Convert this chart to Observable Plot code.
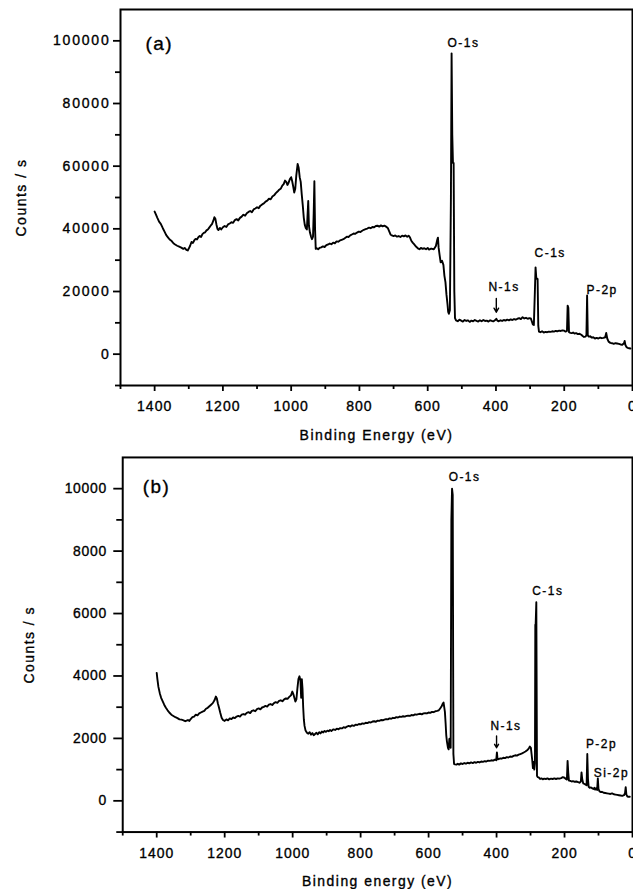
<!DOCTYPE html>
<html>
<head>
<meta charset="utf-8">
<script src="https://cdn.jsdelivr.net/npm/d3@7"></script>
<script src="https://cdn.jsdelivr.net/npm/@observablehq/plot@0.6"></script>
<style>
  body { margin: 0; background: #fff; }
  #wrap { width: 633px; overflow: hidden; }
  #wrap svg { display: block; }
  svg text { letter-spacing: 1px; stroke: #000; stroke-width: 0.35px; }
  svg g[aria-label="text"] text { letter-spacing: 1.5px; }
  #pa g[aria-label="y-axis tick label"] text { letter-spacing: 1.8px; }
  #pb g[aria-label="y-axis tick label"] text { letter-spacing: 0.7px; }
</style>
</head>
<body>
<div id="wrap"><div id="pa"></div><div id="pb"></div></div>
<script>
// ---------- Panel (a) spectrum ----------
const energyA = [1400,1397,1392,1387,1382,1376,1371,1366,1361,1356,1350,1345,1340,1334,1328,1322,1316,1312,1307,1303,1300,1296,1292,1288,1284,1280,1276,1272,1268,1264,1260,1256,1252,1248,1244,1240,1236,1232,1228,1225,1222,1219,1216,1213,1209,1205,1200,1195,1190,1185,1180,1175,1170,1165,1160,1155,1150,1145,1140,1135,1130,1125,1120,1115,1110,1105,1100,1095,1090,1085,1080,1075,1070,1065,1060,1055,1050,1045,1040,1035,1030,1026,1022,1018,1014,1011,1008,1004,1000,997,994,991,988,985,981,978,975,972,969,966,963,960,957,954,950,948,945,942,939,936,934,932,930,928,925,921,917,912,907,902,897,892,887,882,877,872,867,862,857,852,847,842,837,832,827,822,817,812,807,802,797,792,787,782,777,772,767,762,757,752,747,742,737,732,727,722,717,713,709,705,700,695,690,685,680,675,670,665,660,656,652,648,644,640,636,632,628,624,620,615,610,605,600,596,590,582,576,572,570,568,565,562,558,554,551,548,545,542,540,538,535,532,530,528,526,524,522,520,517,512,507,502,497,492,487,482,477,472,467,462,457,452,447,442,437,432,427,422,417,412,407,402,399,396,392,387,382,377,372,367,362,357,352,347,342,337,332,327,322,317,312,307,302,298,295,292,289,286,284,282,280,278,276,274,270,265,260,255,250,245,240,235,230,225,220,215,210,205,200,196,192,190,188,186,182,178,174,170,165,160,155,150,146,142,138,135,133,131,128,124,120,115,110,105,100,95,90,85,80,77,74,70,65,60,55,50,45,40,35,30,25,23,21,18,14,10,6];
const countsA = [45500,44800,43500,42300,41600,40200,39100,38000,37300,36600,36100,35400,35000,34600,34300,34000,33600,33900,33300,33100,33700,34600,35800,35500,36300,36800,36600,37300,37700,37400,38300,38700,38900,39500,39800,40400,41000,41500,42600,43700,43200,41400,40000,39600,40300,39800,40500,40900,40600,41400,41700,42100,41900,42800,43100,42700,43500,43900,44500,44200,45000,45400,45700,45300,46200,46500,46900,46600,47400,47800,48100,48700,49000,49600,49400,50300,50700,51400,51900,52500,52900,53800,54300,55400,54900,54000,54600,55800,56500,55200,53500,51600,52800,57000,60700,59500,56500,55000,51000,47500,43500,41200,40200,39800,48900,41000,38800,37600,36700,37500,45000,55200,40000,33600,33800,33500,33900,34100,34400,34200,34800,35000,35300,35100,35600,35400,36000,35900,36300,36500,36700,37100,37500,37400,37900,38200,38500,38400,38800,39100,39000,39400,39700,39900,40100,40400,40200,40600,40500,40900,41000,40700,41100,40800,41000,40700,40300,39300,38200,37900,37700,37900,37500,37700,37400,37800,37600,37900,37500,37800,37300,36200,35600,35100,34600,34100,33700,33500,33900,33600,33800,33500,33900,33400,33700,33500,34500,36500,37200,34000,31500,29300,29800,28500,25000,23000,19000,16000,13500,12900,14000,50000,96000,70000,61000,61000,20000,11500,10800,10500,11000,10700,10400,10900,10600,10800,10300,10700,10500,10900,10600,10400,10800,10500,10900,10600,10700,10400,10800,10600,10500,10900,11300,10700,10500,10800,10600,10900,10700,11000,10800,11100,10900,11200,11000,11300,11500,11200,11800,11400,11600,11300,11500,11400,10500,9500,9300,20000,27700,24500,24000,24000,9000,7200,7000,7300,6900,7100,7000,7200,7100,7300,7200,7400,7300,7500,7400,7600,7500,7200,7400,15500,14800,7000,6800,6700,6900,6600,6700,6400,6500,6200,5800,5500,5600,6000,18700,6000,5600,5700,5300,5400,5000,5200,5000,5300,5100,5200,5400,6800,5000,4000,3600,3500,3300,3500,3400,3300,3100,3000,3500,4200,3000,2300,2000,1900,1800];

// ---------- Panel (b) spectrum ----------
const energyB = [1400,1398,1395,1391,1387,1383,1378,1373,1368,1363,1357,1351,1345,1339,1333,1327,1321,1316,1312,1308,1304,1300,1295,1290,1285,1280,1275,1270,1265,1260,1255,1250,1245,1240,1235,1230,1226,1223,1220,1217,1213,1209,1205,1200,1195,1190,1185,1180,1175,1170,1165,1160,1155,1150,1145,1140,1135,1130,1125,1120,1115,1110,1105,1100,1095,1090,1085,1080,1075,1070,1065,1060,1055,1050,1045,1040,1035,1030,1025,1020,1015,1010,1005,1001,998,995,992,989,986,983,980,977,975,973,971,969,967,965,962,958,954,950,946,942,938,934,930,926,922,918,914,910,906,902,898,894,890,886,880,875,870,865,860,855,850,845,840,835,830,825,820,815,810,805,800,795,790,785,780,775,770,765,760,755,750,745,740,735,730,725,720,715,710,705,700,695,690,685,680,675,670,665,660,655,650,645,640,635,630,625,620,615,610,605,600,595,590,585,580,575,570,566,562,558,556,554,552,550,548,546,543,541,539,537,535,533,531,529,527,525,522,518,514,510,505,500,495,490,485,480,475,470,465,460,455,450,445,440,435,430,425,420,415,410,405,401,399,397,393,389,385,380,375,370,365,360,355,350,345,340,335,330,325,320,315,310,305,302,299,297,295,293,291,289,287,286,285,283,281,279,276,272,268,264,260,255,250,245,240,235,230,225,220,215,210,205,200,196,193,191,189,187,183,179,175,170,165,160,156,152,150,148,145,141,138,135,133,131,129,126,122,118,115,112,110,107,104,102,100,97,93,90,85,80,75,70,65,60,55,50,45,40,35,30,25,22,20,18,15,12,8];
const countsB = [4100,3900,3650,3450,3300,3200,3080,2980,2900,2830,2760,2720,2680,2650,2610,2600,2580,2550,2570,2590,2560,2620,2680,2700,2760,2740,2800,2830,2860,2880,2950,2980,3030,3080,3130,3220,3340,3280,3120,3000,2820,2660,2590,2560,2610,2580,2640,2620,2670,2650,2700,2720,2700,2760,2780,2760,2820,2840,2810,2880,2900,2870,2940,2960,2930,2990,3010,3040,3020,3080,3100,3070,3130,3160,3140,3200,3220,3190,3250,3280,3270,3330,3380,3500,3420,3300,3180,3250,3600,3900,3990,3850,3300,3900,3600,3000,2600,2400,2250,2180,2150,2200,2120,2170,2100,2140,2180,2130,2200,2160,2220,2190,2240,2210,2250,2230,2270,2240,2290,2270,2310,2290,2330,2320,2360,2340,2380,2400,2380,2420,2400,2440,2430,2460,2450,2480,2470,2500,2490,2520,2510,2540,2550,2530,2570,2560,2590,2580,2600,2620,2610,2640,2630,2660,2650,2680,2670,2700,2690,2710,2700,2720,2730,2720,2750,2740,2770,2760,2780,2790,2770,2800,2810,2800,2830,2820,2850,2840,2870,2880,2900,2960,3020,3120,3150,3000,2850,2500,2100,1900,1700,1650,1980,2000,1700,9000,10000,9800,1500,1180,1170,1160,1190,1160,1200,1180,1210,1190,1220,1200,1230,1210,1240,1220,1250,1230,1260,1250,1270,1260,1290,1280,1300,1290,1320,1300,1550,1330,1340,1360,1350,1380,1370,1400,1390,1420,1410,1440,1460,1450,1480,1500,1520,1550,1580,1620,1680,1740,1700,1500,1300,1050,1250,1000,1200,5640,5640,6360,800,760,750,700,720,690,710,700,720,690,710,700,720,700,720,710,730,760,740,700,680,1280,900,650,640,620,630,610,620,600,580,620,910,700,560,540,520,500,1500,700,450,420,430,400,380,420,360,400,350,720,380,300,280,290,260,250,240,230,220,240,210,200,190,180,170,160,180,250,440,200,140,130,130];

// ---------- Axes ticks ----------
const xMajor = [1400, 1200, 1000, 800, 600, 400, 200, 0];
const xMinor = [1500, 1300, 1100, 900, 700, 500, 300, 100];
const yMajorA = [0, 20000, 40000, 60000, 80000, 100000];
const yMinorA = [-10000, 10000, 30000, 50000, 70000, 90000];
const yMajorB = [0, 2000, 4000, 6000, 8000, 10000];
const yMinorB = [-1000, 1000, 3000, 5000, 7000, 9000];

// ---------- Annotations ----------
const peakNamesA = ["O-1s", "C-1s", "N-1s", "P-2p"];
const peakTextEA = [542, 287, 422, 135];
const peakTextCA = [99150, 32200, 21400, 20300];
const arrowEA = [399];
const arrowFromA = [17800];
const arrowToA = [13400];

const peakNamesB = ["O-1s", "C-1s", "N-1s", "P-2p", "Si-2p"];
const peakTextEB = [541, 295, 418, 137, 114];
const peakTextCB = [10360, 6730, 2400, 1815, 880];
const arrowEB = [400];
const arrowFromB = [2080];
const arrowToB = [1700];

const panelLetters = ["(a)", "(b)"];
const panelLetterE = [1427, 1441];
const panelLetterC = [99150, 10045];

const yTitle = "Counts / s";
const xTitleA = "Binding Energy (eV)";
const xTitleB = "Binding energy (eV)";

const zip = (es, cs) => es.map((e, i) => ({E: e, c: cs[i]}));
const fmt = d => String(d);
const font = "'Liberation Sans', Arial, Helvetica, sans-serif";

function panel({width, height, mL, mR, mT, mB, yDomain, yMajor, yMinor, yTick, yPad, yMinorTick,
                spec, names, tE, tC, aE, aFrom, aTo, letterIdx, xTitle, yDx}) {
  const labels = names.map((n, i) => ({n, E: tE[i], c: tC[i]}));
  const arrows = aE.map((e, i) => ({E: e, c1: aFrom[i], c2: aTo[i]}));
  return Plot.plot({
    width, height,
    marginLeft: mL, marginRight: mR, marginTop: mT, marginBottom: mB,
    style: {fontFamily: font, fontSize: "14px", color: "black", background: "white"},
    x: {domain: [1500, 0]},
    y: {domain: yDomain},
    marks: [
      Plot.frame({stroke: "black", strokeWidth: 2}),
      Plot.axisX(xMajor, {tickSize: 6, tickPadding: 10, tickFormat: fmt, label: null, strokeWidth: 1.8, fontSize: 14}),
      Plot.axisX(xMinor, {tickSize: 4, tickFormat: () => "", label: null, strokeWidth: 1.8}),
      Plot.axisY(yMajor, {tickSize: yTick, tickPadding: yPad, tickFormat: fmt, label: null, strokeWidth: 1.8, fontSize: 14}),
      Plot.axisY(yMinor, {tickSize: yMinorTick, tickFormat: () => "", label: null, strokeWidth: 1.8}),
      Plot.line(spec, {x: "E", y: "c", stroke: "black", strokeWidth: 1.9}),
      Plot.text(labels, {x: "E", y: "c", text: "n", textAnchor: "start", lineAnchor: "middle", fontSize: 12, fill: "black"}),
      Plot.arrow(arrows, {x1: "E", x2: "E", y1: "c1", y2: "c2", stroke: "black", strokeWidth: 1.4, headLength: 5}),
      Plot.text([panelLetters[letterIdx]], {x: panelLetterE[letterIdx], y: panelLetterC[letterIdx], text: d => d, textAnchor: "start", lineAnchor: "middle", fontSize: 19, fill: "black"}),
      Plot.text([yTitle], {frameAnchor: "left", dx: yDx, rotate: -90, textAnchor: "middle", lineAnchor: "middle", fontSize: 14, fill: "black", text: d => d}),
      Plot.text([xTitle], {frameAnchor: "bottom", dy: 50, textAnchor: "middle", lineAnchor: "middle", fontSize: 14, fill: "black", text: d => d})
    ]
  });
}

const plotA = panel({
  width: 633, height: 448, mL: 120, mR: 1, mT: 9, mB: 63,
  yDomain: [-10000, 110000], yMajor: yMajorA, yMinor: yMinorA, yTick: 7, yPad: 3, yMinorTick: 5,
  spec: zip(energyA, countsA), names: peakNamesA, tE: peakTextEA, tC: peakTextCA,
  aE: arrowEA, aFrom: arrowFromA, aTo: arrowToA, letterIdx: 0, xTitle: xTitleA, yDx: -99
});
const plotB = panel({
  width: 637, height: 444, mL: 123, mR: 1, mT: 9, mB: 58,
  yDomain: [-1000, 11000], yMajor: yMajorB, yMinor: yMinorB, yTick: 9, yPad: 7, yMinorTick: 6,
  spec: zip(energyB, countsB), names: peakNamesB, tE: peakTextEB, tC: peakTextCB,
  aE: arrowEB, aFrom: arrowFromB, aTo: arrowToB, letterIdx: 1, xTitle: xTitleB, yDx: -94
});
document.getElementById("pa").appendChild(plotA);
document.getElementById("pb").appendChild(plotB);
</script>
</body>
</html>
